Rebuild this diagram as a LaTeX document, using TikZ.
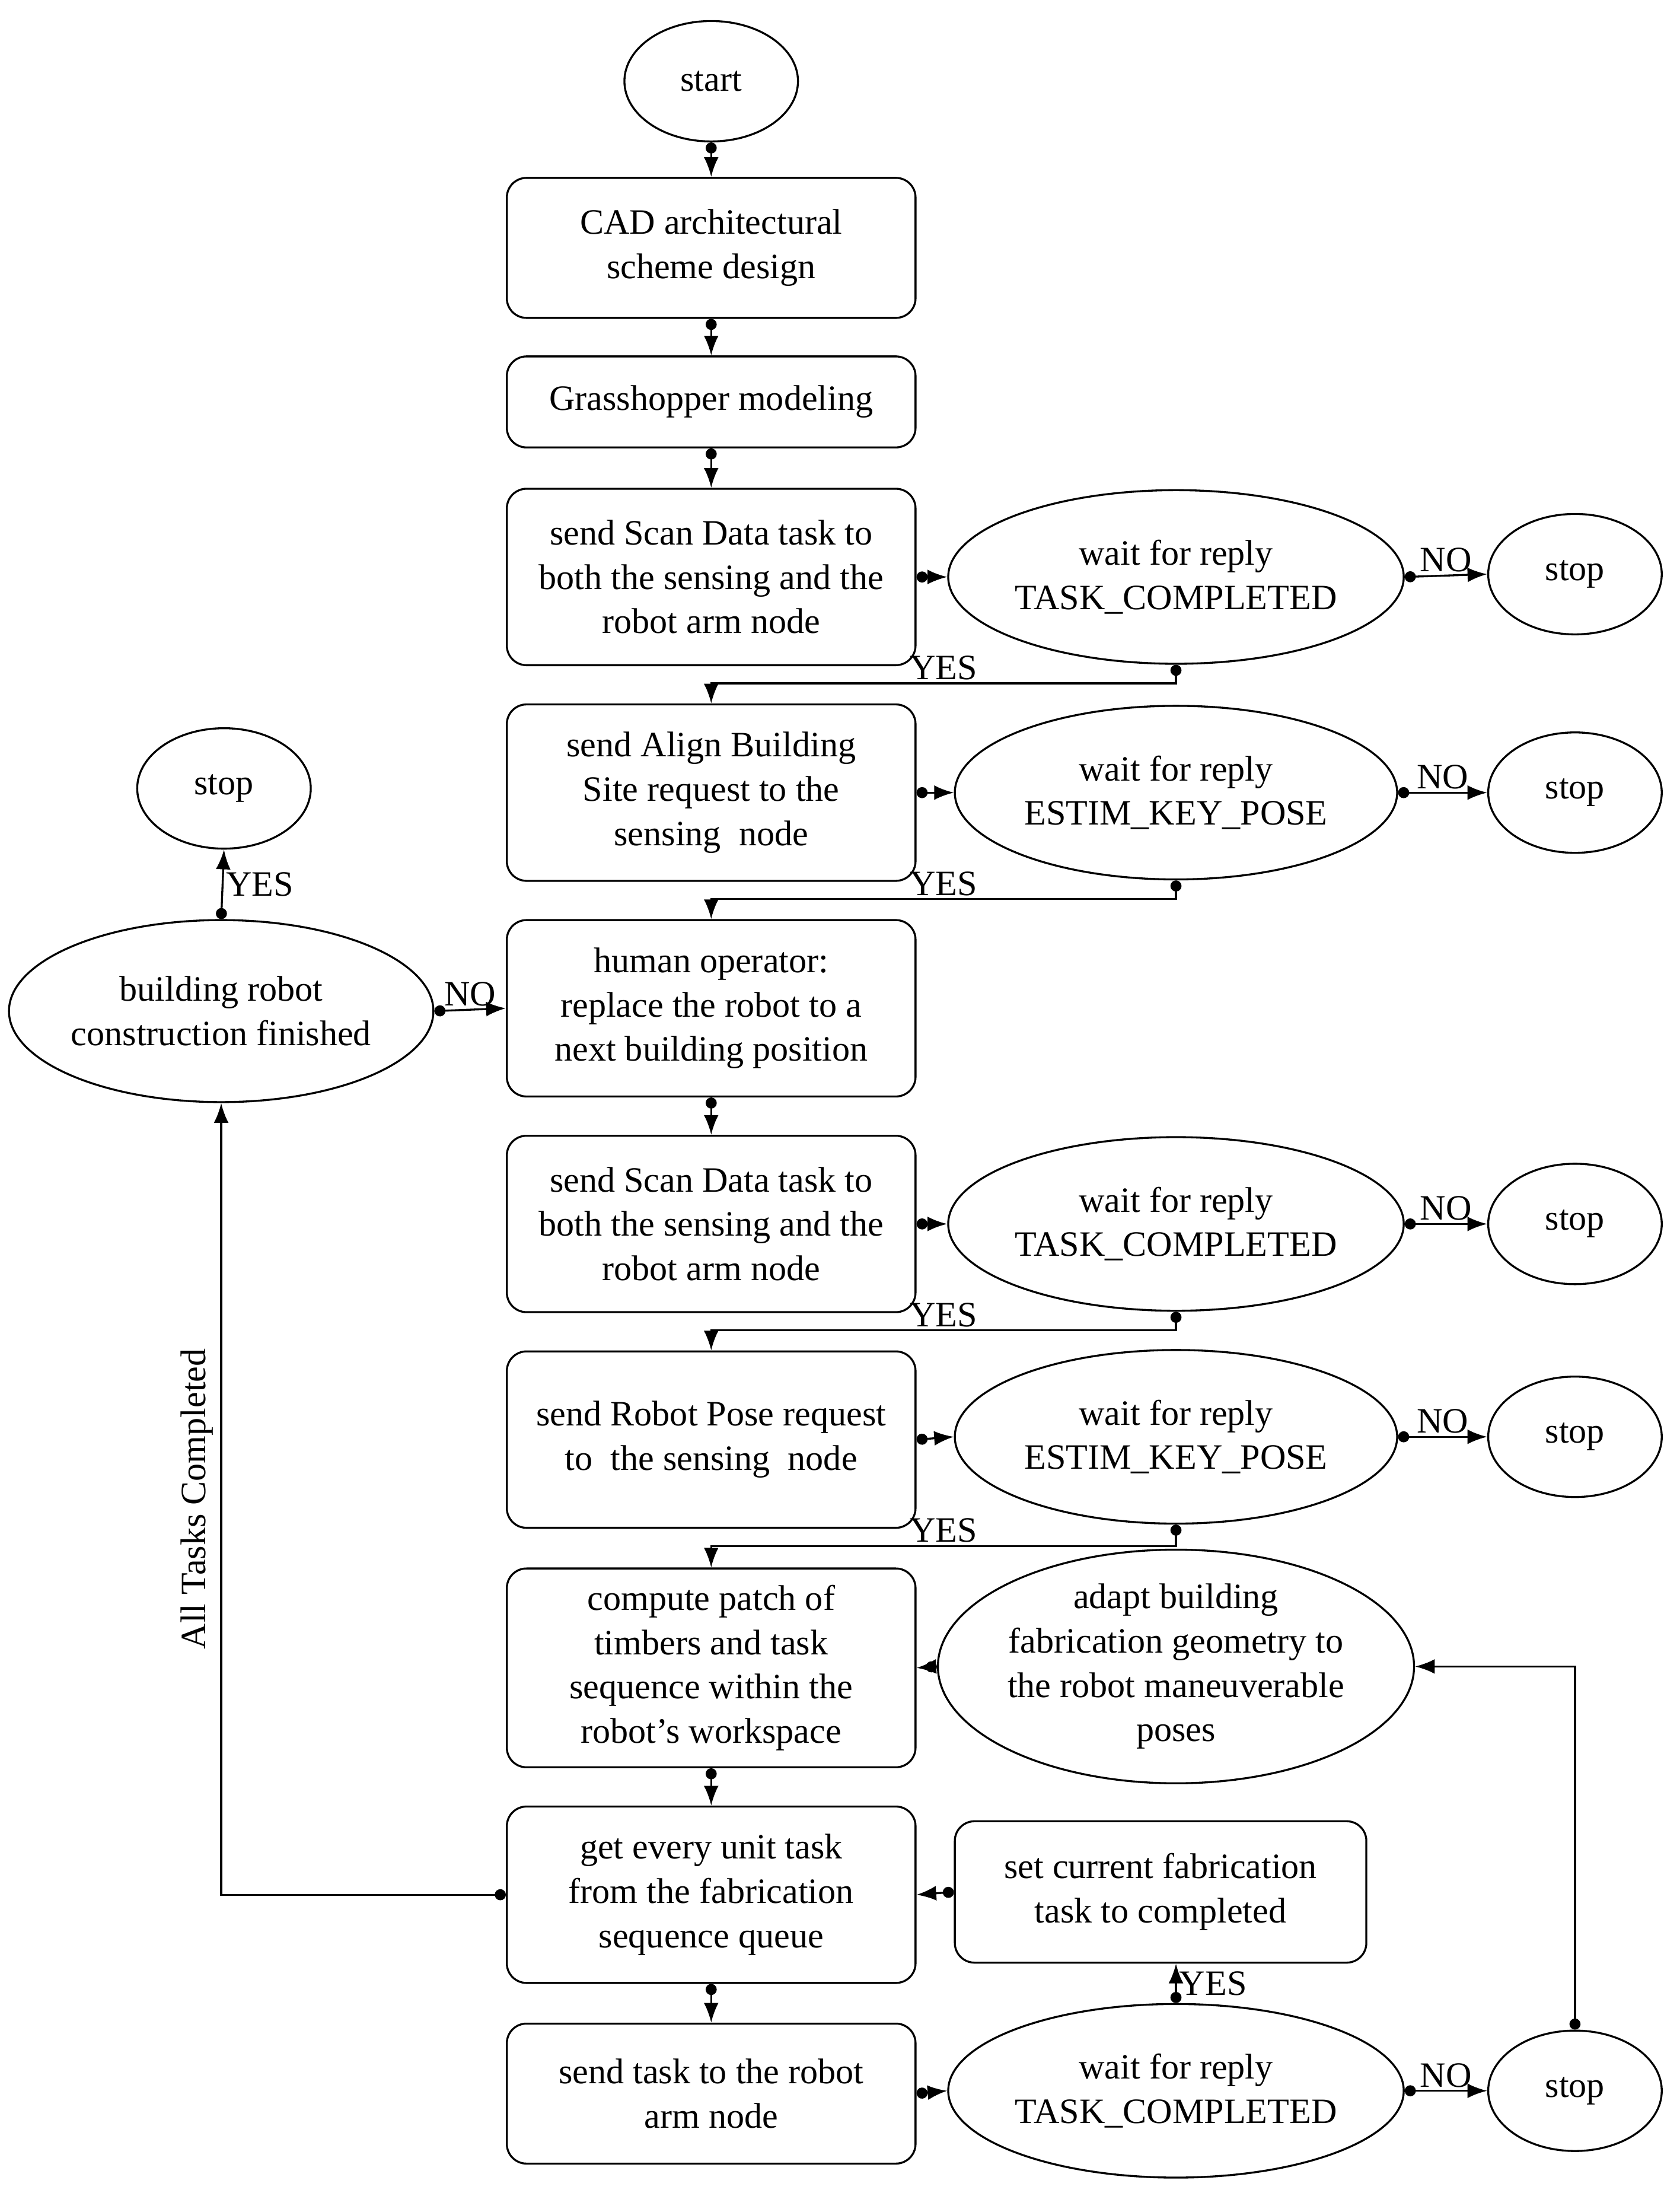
\documentclass[tikz,border=0pt]{standalone}
\usepackage{fontspec}
\setmainfont{Liberation Serif}
\usetikzlibrary{shapes.geometric, arrows.meta, positioning}
\tikzset{
  x=0.02cm, y=-0.02cm,
  every node/.style={font=\fontsize{14.5}{18}\selectfont, align=center, line width=0.8pt},
  box/.style={draw, rounded corners=8pt, minimum width=5.84cm, minimum height=2.52cm},
  wait/.style={draw, ellipse, minimum width=6.32cm, minimum height=2.48cm, inner sep=0pt},
  term/.style={draw, ellipse, minimum width=2.48cm, minimum height=1.72cm},
  flow/.style={line width=0.8pt, {Circle[length=4.5pt]}-{Latex[length=8pt,width=6pt]}},
  lab/.style={font=\fontsize{14.5}{16}\selectfont, inner sep=1pt},
}
\begin{document}
\begin{tikzpicture}
        \useasboundingbox (0,0) rectangle (1200,1566);
        % main column
        \node[term] (start) at (508,58) {start};
        \node[box, minimum height=2cm] (cad) at (508,177) {CAD architectural\\scheme design};
        \node[box, minimum height=1.3cm] (gh) at (508,287) {Grasshopper modeling};
        \node[box] (scan1) at (508,412) {send Scan Data task to\\both the sensing and the\\robot arm node};
        \node[box] (align) at (508,566) {send Align Building\\Site request to the\\sensing\ \ node};
        \node[box] (human) at (508,720) {human operator:\\replace the robot to a\\next building position};
        \node[box] (scan2) at (508,874) {send Scan Data task to\\both the sensing and the\\robot arm node};
        \node[box] (pose) at (508,1028) {send Robot Pose request\\to\ \ the sensing\ \ node};
        \node[box, minimum height=2.84cm] (comp) at (508,1191) {compute patch of\\timbers and task\\sequence within the\\robot's workspace};
        \node[box] (get) at (508,1353) {get every unit task\\from the fabrication\\sequence queue};
        \node[box, minimum height=2cm] (send) at (508,1495) {send task to the robot\\arm node};

        % replies
        \node[wait] (w1) at (840,412) {wait for reply\\TASK\_COMPLETED};
        \node[wait] (w2) at (840,566) {wait for reply\\ESTIM\_KEY\_POSE};
        \node[wait] (w3) at (840,874) {wait for reply\\TASK\_COMPLETED};
        \node[wait] (w4) at (840,1026) {wait for reply\\ESTIM\_KEY\_POSE};
        \node[wait, minimum height=3cm] (adapt) at (840,1190) {adapt building\\fabrication geometry to\\the robot maneuverable\\poses};
        \node[box, minimum width=5.88cm, minimum height=2.02cm] (set) at (829,1351) {set current fabrication\\task to completed};
        \node[wait] (w5) at (840,1493) {wait for reply\\TASK\_COMPLETED};

        % stops
        \node[term] (s1) at (1125,410) {stop};
        \node[term] (s2) at (1125,566) {stop};
        \node[term] (s3) at (1125,874) {stop};
        \node[term] (s4) at (1125,1026) {stop};
        \node[term] (s5) at (1125,1493) {stop};
        \node[term] (sl) at (160,563) {stop};
        \node[wait, minimum width=5.92cm, minimum height=2.6cm] (fin) at (158,722) {building robot\\construction finished};

        % straight flow
        \draw[flow] (start) -- (cad);
        \draw[flow] (cad) -- (gh);
        \draw[flow] (gh) -- (scan1);
        \draw[flow] (human) -- (scan2);
        \draw[flow] (comp) -- (get);
        \draw[flow] (get) -- (send);

        % requests and NO branches
        \foreach \b/\w/\s in {scan1/w1/s1, align/w2/s2, scan2/w3/s3, pose/w4/s4, send/w5/s5}{
          \draw[flow] (\b.east) -- (\w.west);
          \draw[flow] (\w.east) -- node[lab, above] {NO} (\s.west);
        }

        % YES branches
        \draw[flow] (w1.south) |- (508,488) node[lab, above, pos=0.75] {YES} -- (align.north);
        \draw[flow] (w2.south) |- (508,642) node[lab, above, pos=0.75] {YES} -- (human.north);
        \draw[flow] (w3.south) |- (508,950) node[lab, above, pos=0.75] {YES} -- (pose.north);
        \draw[flow] (w4.south) |- (508,1104) node[lab, above, pos=0.75] {YES} -- (comp.north);
        \draw[flow] (w5.north) -- node[lab, right] {YES} (set.south -| w5.north);

        % loops
        \draw[flow] (set.west) -- (get.east);
        \draw[flow] (adapt.west) -- (comp.east);
        \draw[flow] (s5.north) |- (adapt.east);
        \draw[flow] (get.west) -| node[lab, left, pos=0.75, rotate=90, anchor=south, yshift=2pt] {All Tasks Completed} (fin.south);
        \draw[flow] (fin.east) -- node[lab, above] {NO} (human.west);
        \draw[flow] (fin.north) -- node[lab, right] {YES} (sl.south);
\end{tikzpicture}
\end{document}
